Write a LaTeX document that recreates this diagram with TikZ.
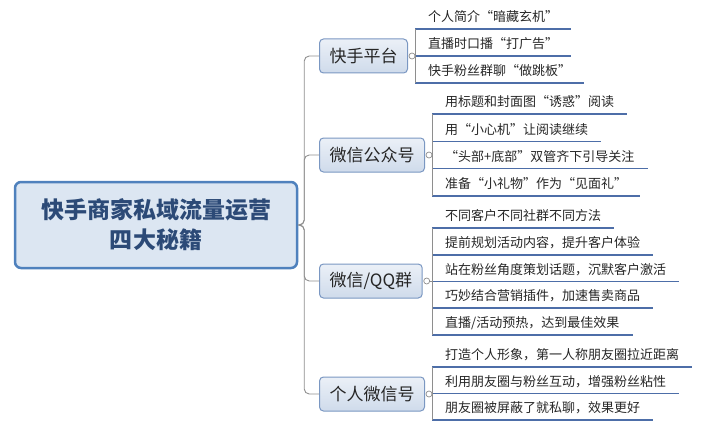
\documentclass[tikz,border=0pt]{standalone}
\usepackage{fontspec}
\setmainfont{Noto Sans CJK SC}
\usetikzlibrary{calc}
\definecolor{rootfill}{HTML}{DCE6F2}
\definecolor{rootdraw}{HTML}{4F81BD}
\definecolor{titleblue}{HTML}{2C4A77}
\definecolor{boxtop}{HTML}{EBF0F7}
\definecolor{boxbot}{HTML}{CFDBEB}
\definecolor{boxdraw}{HTML}{7A97C2}
\definecolor{linkgray}{HTML}{8E8E8E}
\definecolor{ublue}{HTML}{4D6EA8}
\definecolor{txtgray}{HTML}{262626}
\tikzset{
    root/.style={draw=rootdraw, line width=2.5pt, fill=rootfill, rounded corners=6pt,
        minimum width=282pt, minimum height=86pt, align=center, text=titleblue,
        font=\fontsize{23}{30}\selectfont\bfseries},
    branch/.style={draw=boxdraw, line width=1pt, top color=boxtop, bottom color=boxbot,
        rounded corners=4pt, minimum height=34pt, inner xsep=10pt, inner ysep=0pt,
        text=txtgray, font=\fontsize{17}{20}\selectfont},
    leaf/.style={minimum height=24pt, inner xsep=13pt, inner ysep=0pt, text=txtgray,
        font=\fontsize{13}{15}\selectfont},
    link/.style={draw=linkgray, line width=0.9pt, rounded corners=5pt},
    uline/.style={draw=ublue, line width=1.6pt},
    knob/.style={draw=linkgray, line width=0.7pt, fill=white},
}
\begin{document}
\begin{tikzpicture}[x=1pt,y=-1pt]
    \useasboundingbox (0,0) rectangle (720,428);
    %% centre topic
    \node[root] (root) at (156,225) {快手商家私域流量运营\\四大秘籍};
    %% main topics
    \node[branch, anchor=west] (ks)  at (319,56)  {快手平台};
    \node[branch, anchor=west] (gzh) at (319,155) {微信公众号};
    \node[branch, anchor=west] (qq)  at (319,281) {微信/QQ群};
    \node[branch, anchor=west] (wx)  at (319,394) {个人微信号};
    \foreach \b in {ks,gzh,qq,wx} {
        \draw[link] (root.east) -- ++(6,0) |- (\b.west);
    }
    %% 快手平台
    \foreach \t [count=\i] in {个人简介“暗藏玄机”,直播时口播“打广告”,快手粉丝群聊“做跳板”} {
        \node[leaf, anchor=south west] (ks-\i) at (415,{29+27*(\i-1)}) {\t};
        \draw[uline] (ks-\i.south west) -- (ks-\i.south east);
    }
    \draw[link] (ks-1.south west) -- (ks-3.south west);
    \draw[linkgray, line width=0.9pt] ([xshift=4pt]ks.east) -- (ks.east -| ks-1.south west);
    \draw[knob] ([xshift=4pt]ks.east) circle (3pt);
    %% 微信公众号
    \foreach \t [count=\i] in {用标题和封面图“诱惑”阅读,用“小心机”让阅读继续,“头部+底部”双管齐下引导关注,准备“小礼物”作为“见面礼”} {
        \node[leaf, anchor=south west] (gzh-\i) at (432,{114+27.3*(\i-1)}) {\t};
        \draw[uline] (gzh-\i.south west) -- (gzh-\i.south east);
    }
    \draw[link] (gzh-1.south west) -- (gzh-4.south west);
    \draw[linkgray, line width=0.9pt] ([xshift=4pt]gzh.east) -- (gzh.east -| gzh-1.south west);
    \draw[knob] ([xshift=4pt]gzh.east) circle (3pt);
    %% 微信/QQ群
    \foreach \t [count=\i] in {不同客户不同社群不同方法,提前规划活动内容，提升客户体验,站在粉丝角度策划话题，沉默客户激活,巧妙结合营销插件，加速售卖商品,直播/活动预热，达到最佳效果} {
        \node[leaf, anchor=south west] (qq-\i) at (432,{228+26.75*(\i-1)}) {\t};
        \draw[uline] (qq-\i.south west) -- (qq-\i.south east);
    }
    \draw[link] (qq-1.south west) -- (qq-5.south west);
    \draw[linkgray, line width=0.9pt] ([xshift=4pt]qq.east) -- (qq.east -| qq-1.south west);
    \draw[knob] ([xshift=4pt]qq.east) circle (3pt);
    %% 个人微信号
    \foreach \t [count=\i] in {打造个人形象，第一人称朋友圈拉近距离,利用朋友圈与粉丝互动，增强粉丝粘性,朋友圈被屏蔽了就私聊，效果更好} {
        \node[leaf, anchor=south west] (wx-\i) at (432,{367+26.5*(\i-1)}) {\t};
        \draw[uline] (wx-\i.south west) -- (wx-\i.south east);
    }
    \draw[link] (wx-1.south west) -- (wx-3.south west);
    \draw[linkgray, line width=0.9pt] ([xshift=4pt]wx.east) -- (wx.east -| wx-1.south west);
    \draw[knob] ([xshift=4pt]wx.east) circle (3pt);
\end{tikzpicture}
\end{document}
